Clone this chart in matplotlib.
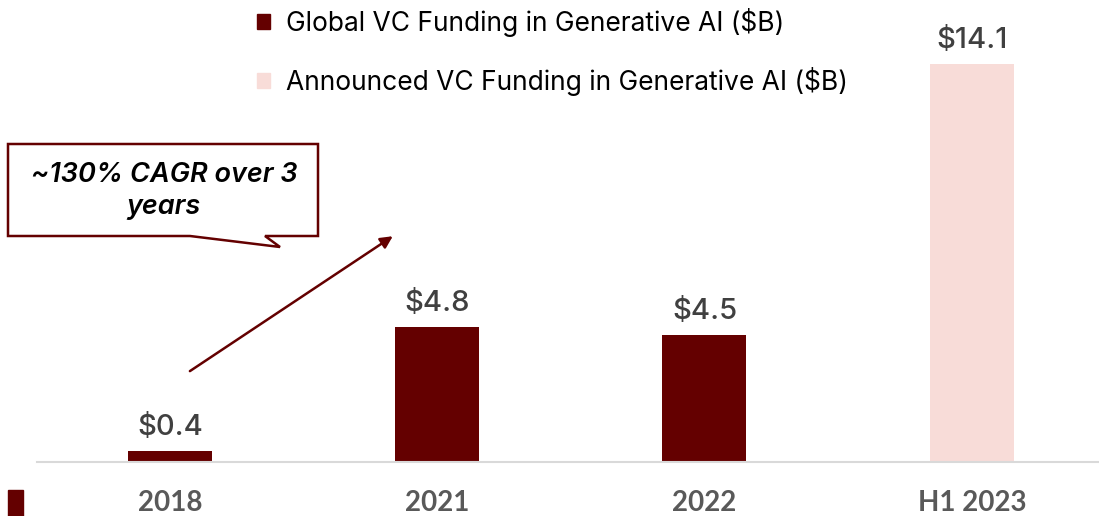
import numpy as np
import matplotlib
import matplotlib.pyplot as plt
from matplotlib.patches import Polygon, Rectangle, Patch

plt.switch_backend('Agg')
plt.rcParams['font.family'] = ['Inter', 'DejaVu Sans']

# data
years = ['2018', '2021', '2022', 'H1 2023']
funding = [0.4, 4.8, 4.5, 14.1]
value_labels = ['$0.4', '$4.8', '$4.5', '$14.1']
is_announced = [False, False, False, True]
legend_labels = ['Global VC Funding in Generative AI ($B)',
                 'Announced VC Funding in Generative AI ($B)']
callout_text = '~130% CAGR over 3\nyears'

dark_red = '#640000'
pink = '#F8DCD8'

W, H = 1099.0, 516.0
fig = plt.figure(figsize=(10.99, 5.16), dpi=100)
ax = fig.add_axes([37 / W, 54 / H, 1 - 37 / W, 1 - 54 / H])

x = np.arange(len(years))
colors = [pink if a else dark_red for a in is_announced]
bars = ax.bar(x, funding, width=0.314, color=colors, zorder=2)

for xi, v, lab in zip(x, funding, value_labels):
    ax.annotate(lab, (xi, v), xytext=(0, 7), textcoords='offset points',
                ha='center', va='bottom', fontsize=21, color='#404040',
                fontweight='medium')

ax.set_xlim(-0.497, 3.476)
ax.set_ylim(0, 16.37)
for s in ['top', 'right', 'left']:
    ax.spines[s].set_visible(False)
ax.spines['bottom'].set_color('#d9d9d9')
ax.spines['bottom'].set_linewidth(1.5)
ax.set_yticks([])
ax.set_xticks(x)
ax.set_xticklabels(years, fontsize=20, fontweight='bold', color='#595959',
                   family=['Lato', 'DejaVu Sans'])
ax.tick_params(axis='x', length=0, pad=20)

# legend
handles = [Patch(color=dark_red), Patch(color=pink)]
leg = ax.legend(handles, legend_labels, loc='upper left',
                bbox_to_anchor=(0.185, 1.035), frameon=False, fontsize=19,
                handlelength=0.5, handleheight=0.5, handletextpad=0.6,
                labelspacing=1.15)

# growth arrow
ax.annotate('', xy=(0.834, 8.0), xytext=(0.075, 3.22),
            arrowprops=dict(arrowstyle='-|>', color=dark_red, lw=1.8,
                            mutation_scale=18, shrinkA=0, shrinkB=0))

# callout box with pointer
pts = [(8, 144), (318, 144), (318, 236), (265, 236), (280, 247),
       (190, 236), (8, 236)]
pts = [(px / W, 1 - py / H) for px, py in pts]
fig.patches.append(Polygon(pts, closed=True, facecolor='white',
                           edgecolor=dark_red, lw=1.8,
                           transform=fig.transFigure, figure=fig))
fig.text(164 / W, 1 - 191 / H, callout_text, ha='center', va='center',
         fontsize=19.5, fontstyle='italic', fontweight='semibold',
         color='black', linespacing=1.25)

# small marker at bottom left
fig.patches.append(Rectangle((8 / W, 0), 15 / W, 26 / H, color=dark_red,
                             transform=fig.transFigure, figure=fig))

fig.savefig('out.png', dpi=100)
